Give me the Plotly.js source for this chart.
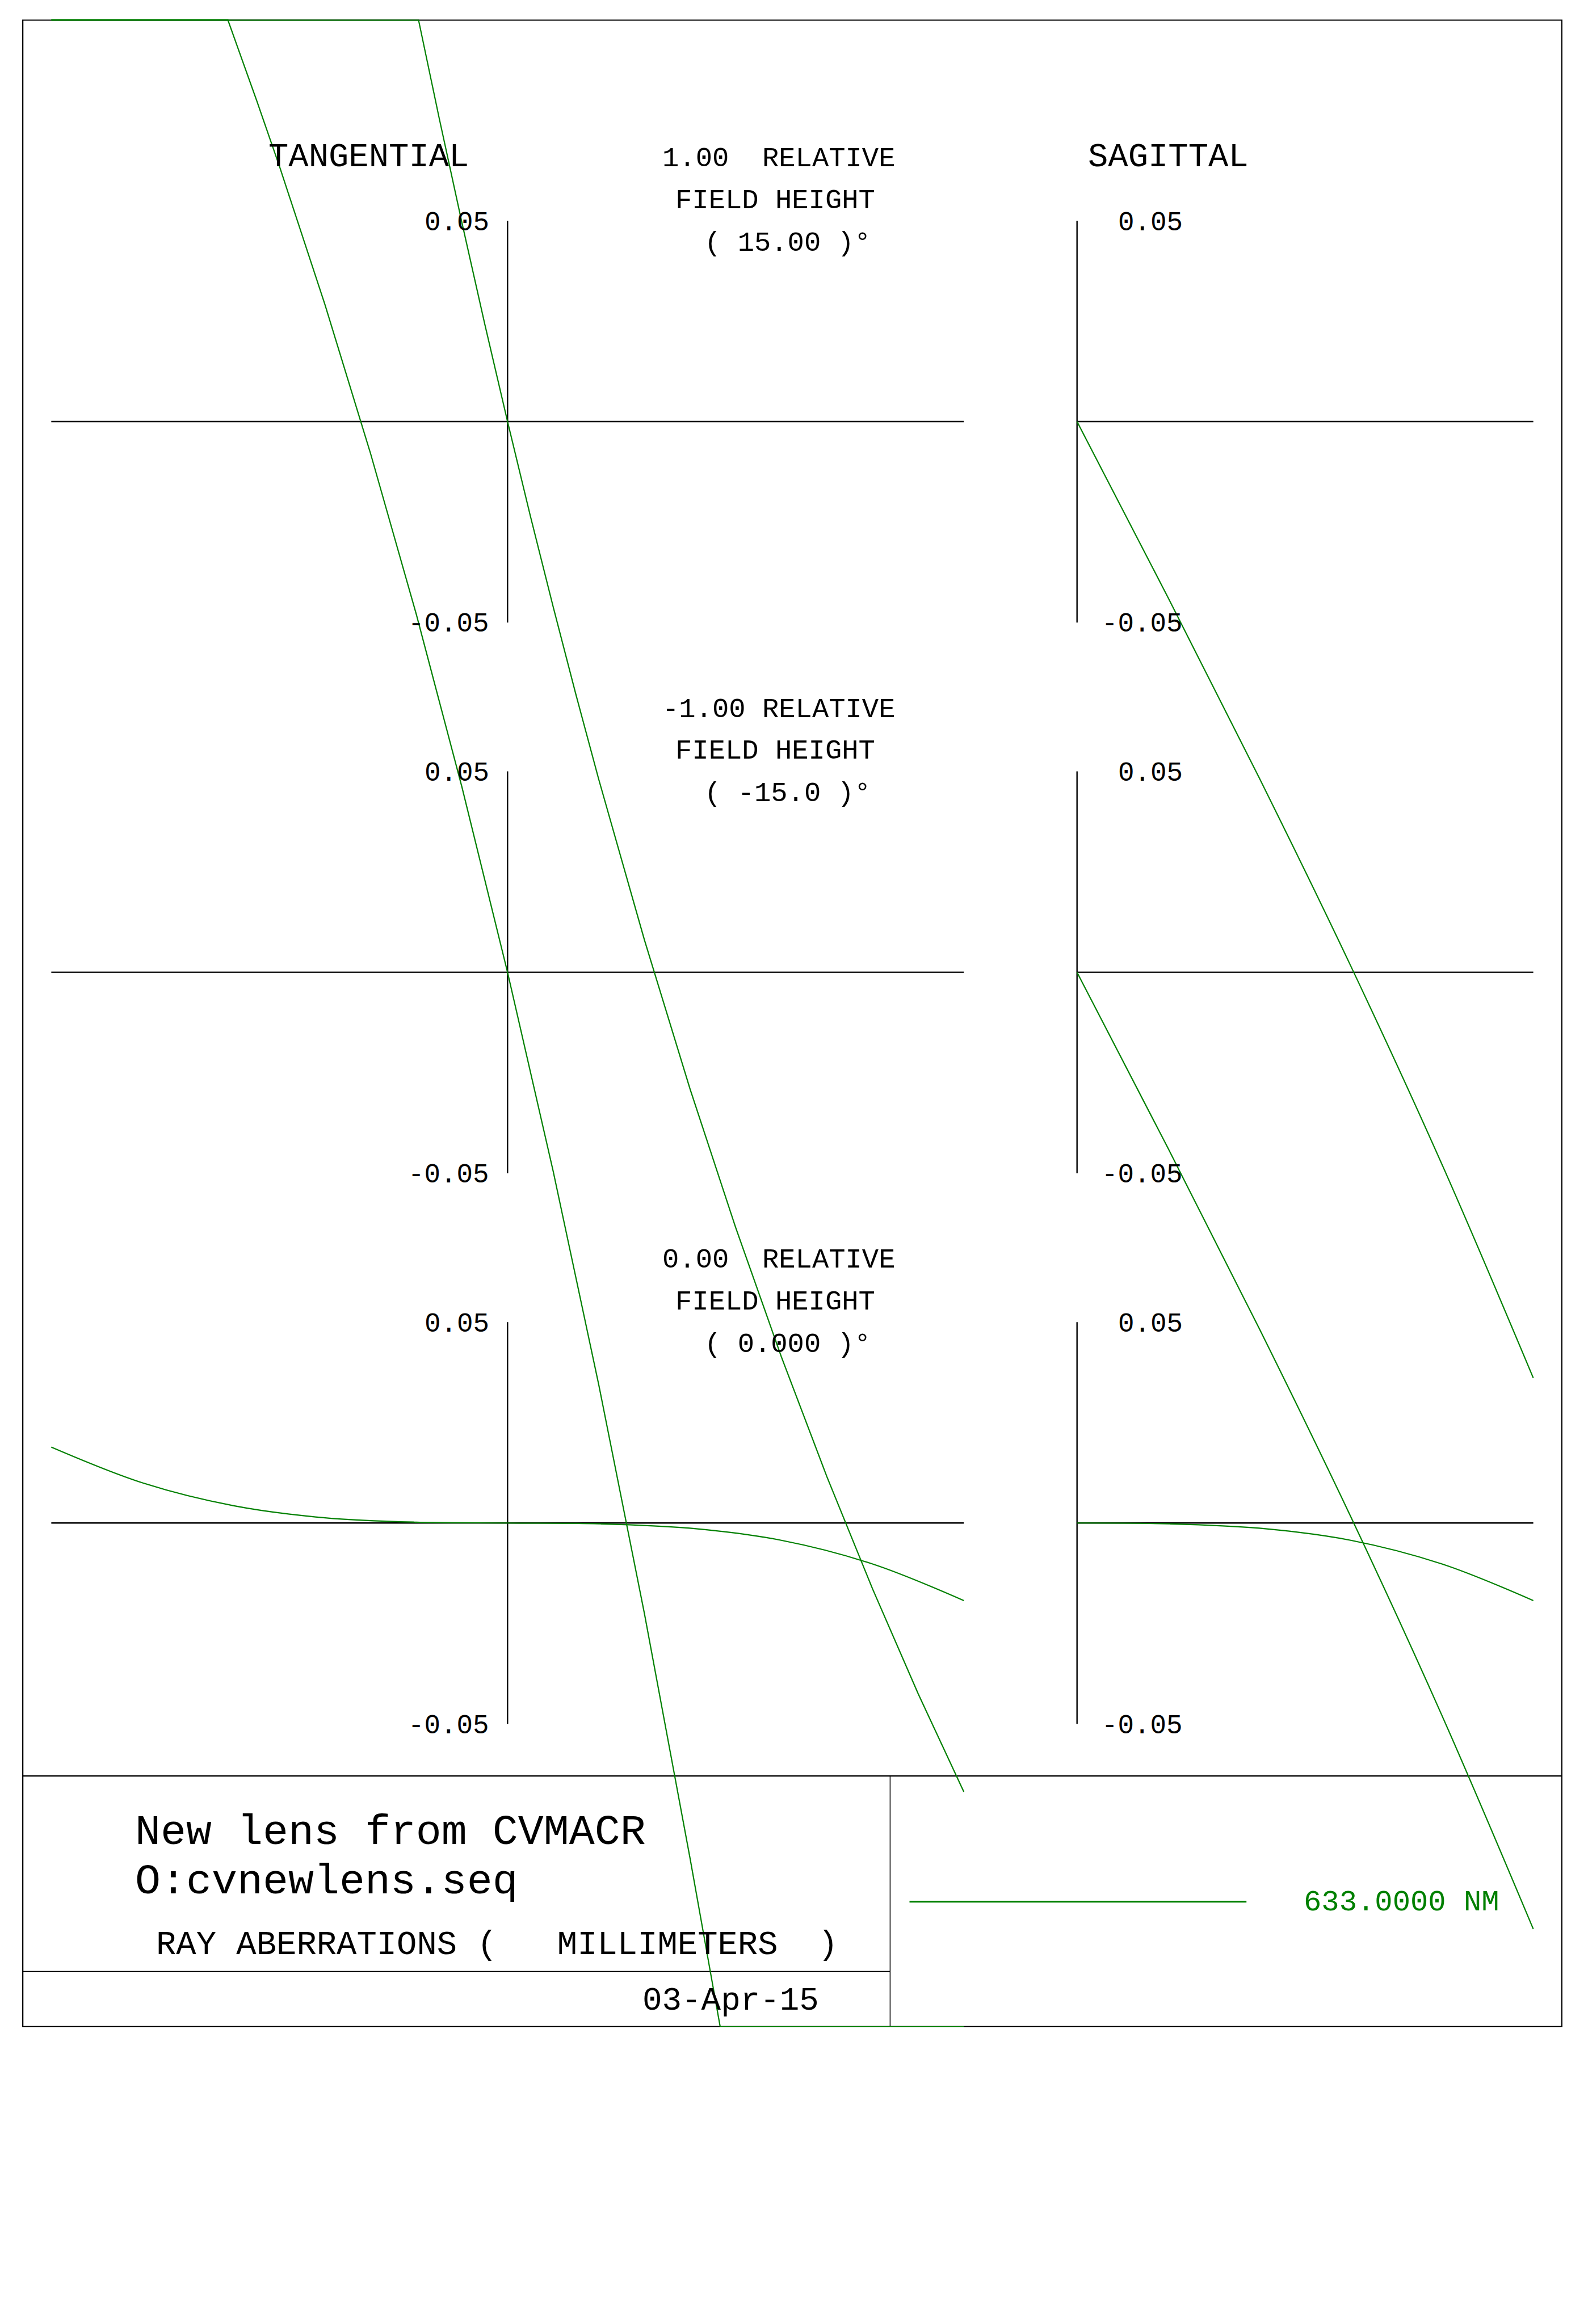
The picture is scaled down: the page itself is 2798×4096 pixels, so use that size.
<!DOCTYPE html>
<html><head><meta charset="utf-8">
<script src="https://cdn.plot.ly/plotly-3.0.1.min.js"></script>
<style>html,body{margin:0;padding:0;background:#fff;overflow:hidden}#plot{width:2798px;height:4096px}</style>
</head><body><div id="plot"></div>
<script>
// ---------------- data ----------------
// relative pupil coordinate / ray aberration (mm); values at the frame edge are clipped as drawn
const PUPIL_T1 = [-1.0, -0.195, -0.15, -0.1, -0.05, 0.0, 0.05, 0.1, 0.15, 0.2, 0.3, 0.4, 0.5, 0.6, 0.7, 0.8, 0.9, 1.0];
const ABER_T1  = [0.0999, 0.0999, 0.0756, 0.0495, 0.0243, 0.0, -0.0235, -0.0461, -0.0680, -0.0891, -0.1290, -0.1661, -0.2006, -0.2327, -0.2626, -0.2905, -0.3166, -0.3410];
const PUPIL_T2 = [-1.0, -0.613, -0.55, -0.5, -0.4, -0.3, -0.2, -0.1, 0.0, 0.1, 0.2, 0.3, 0.4, 0.466, 1.0];
const ABER_T2  = [0.2370, 0.2370, 0.2170, 0.2006, 0.1661, 0.1290, 0.0891, 0.0461, 0.0, -0.0495, -0.1027, -0.1596, -0.2205, -0.2624, -0.2624];
const PUPIL_T3 = [-1.0, -0.8, -0.6, -0.4, -0.2, 0.0, 0.2, 0.4, 0.6, 0.8, 1.0];
const ABER_T3  = [0.0189, 0.0100, 0.0043, 0.0013, 0.0002, 0.0, -0.0002, -0.0013, -0.0043, -0.0102, -0.0193];
const PUPIL_S1 = [0.0, 0.2, 0.4, 0.6, 0.8, 1.0];
const ABER_S1  = [0.0, -0.0439, -0.0888, -0.1355, -0.1849, -0.2380];
const PUPIL_S2 = [0.0, 0.2, 0.4, 0.6, 0.8, 1.0];
const ABER_S2  = [0.0, -0.0439, -0.0888, -0.1355, -0.1850, -0.2381];
const PUPIL_S3 = [0.0, 0.2, 0.4, 0.6, 0.8, 1.0];
const ABER_S3  = [0.0, -0.0002, -0.0013, -0.0043, -0.0102, -0.0193];

const TICK_VALUES = [0.05, -0.05];
const TICK_LABELS = ["0.05", "-0.05"];
const FIELD_LINE1 = ["1.00  RELATIVE", "-1.00 RELATIVE", "0.00  RELATIVE"];
const FIELD_LINE2 = ["FIELD HEIGHT", "FIELD HEIGHT", "FIELD HEIGHT"];
const FIELD_LINE3 = ["( 15.00 )°", "( -15.0 )°", "( 0.000 )°"];
const HEAD_TAN = "TANGENTIAL";
const HEAD_SAG = "SAGITTAL";
const TITLE_LINES = ["New lens from CVMACR", "O:cvnewlens.seq"];
const UNITS_LINE = "RAY ABERRATIONS (   MILLIMETERS  )";
const DATE_TEXT = "03-Apr-15";
const WAVELENGTH = "633.0000 NM";

// ---------------- geometry (reference pixels) ----------------
const REF_W = 4180, REF_H = 6119, W = 2798, H = 4096, S = W / REF_W;
const TAN_X0 = 1336, SAG_X0 = 2835, PUPIL_PX = 1201;
const ZERO_Y = [1110, 2560, 4010];
const MM_PX = 529 / 0.05;
const GREEN = '#008000';
const FONT = 'Liberation Mono, Courier New, monospace';
const px = X => X / REF_W, py = Y => 1 - Y / REF_H;
const yaxName = ['y', 'y2', 'y3'];

const traces = [
  [PUPIL_T1, ABER_T1, 'x', 'y'], [PUPIL_T2, ABER_T2, 'x', 'y2'], [PUPIL_T3, ABER_T3, 'x', 'y3'],
  [PUPIL_S1, ABER_S1, 'x2', 'y'], [PUPIL_S2, ABER_S2, 'x2', 'y2'], [PUPIL_S3, ABER_S3, 'x2', 'y3']
].map(([x, y, xa, ya], i) => ({
  x, y, xaxis: xa, yaxis: ya, type: 'scatter', mode: 'lines', hoverinfo: 'skip',
  line: {color: GREEN, width: 2.2, shape: (i % 3 === 2 || i >= 3) ? 'spline' : 'linear'}, showlegend: false
}));

const hidden = {visible: false, fixedrange: true, domain: [0, 1]};
const layout = {
  width: W, height: H, autosize: false,
  margin: {l: 0, r: 0, t: 0, b: 0, pad: 0},
  paper_bgcolor: '#fff', plot_bgcolor: '#fff', showlegend: false,
  xaxis: Object.assign({}, hidden, {range: [(0 - TAN_X0) / PUPIL_PX, (REF_W - TAN_X0) / PUPIL_PX]}),
  xaxis2: Object.assign({}, hidden, {overlaying: 'x', range: [(0 - SAG_X0) / PUPIL_PX, (REF_W - SAG_X0) / PUPIL_PX]}),
  shapes: [], annotations: []
};
ZERO_Y.forEach((z, k) => {
  const key = k === 0 ? 'yaxis' : 'yaxis' + (k + 1);
  layout[key] = Object.assign({}, hidden, {range: [(z - REF_H) / MM_PX, z / MM_PX]});
  if (k > 0) layout[key].overlaying = 'y';
});

const blk = w => ({color: '#000', width: w});
const shp = layout.shapes;
// frame and title block
shp.push({type: 'rect', xref: 'paper', yref: 'paper', x0: px(60), x1: px(4111), y0: py(53), y1: py(5336), line: blk(2.2), layer: 'below'});
shp.push({type: 'line', xref: 'paper', yref: 'paper', x0: px(60), x1: px(4111), y0: py(4676), y1: py(4676), line: blk(2.2), layer: 'below'});
shp.push({type: 'line', xref: 'paper', yref: 'paper', x0: px(2343), x1: px(2343), y0: py(4676), y1: py(5336), line: blk(1.5), layer: 'below'});
shp.push({type: 'line', xref: 'paper', yref: 'paper', x0: px(60), x1: px(2343), y0: py(5191), y1: py(5191), line: blk(2.2), layer: 'below'});
// legend sample line
shp.push({type: 'line', xref: 'paper', yref: 'paper', x0: px(2394), x1: px(3281), y0: py(5007), y1: py(5007), line: {color: GREEN, width: 3.2}});

// panel axes
ZERO_Y.forEach((z, k) => {
  const ya = yaxName[k];
  shp.push({type: 'line', xref: 'x', yref: ya, x0: -1, x1: 1, y0: 0, y1: 0, line: blk(2.4), layer: 'below'});
  shp.push({type: 'line', xref: 'x', yref: ya, x0: 0, x1: 0, y0: -0.05, y1: 0.05, line: blk(2.4), layer: 'below'});
  shp.push({type: 'line', xref: 'x2', yref: ya, x0: 0, x1: 1, y0: 0, y1: 0, line: blk(2.4), layer: 'below'});
  shp.push({type: 'line', xref: 'x2', yref: ya, x0: 0, x1: 0, y0: -0.05, y1: 0.05, line: blk(2.4), layer: 'below'});
});

const ann = layout.annotations;
const BASE_K = 0.27;
function textAt(text, X, baseY, fsFull, anchor, color) {
  ann.push({text, xref: 'paper', yref: 'paper', x: px(X), y: py(baseY - BASE_K * fsFull),
    xanchor: anchor, yanchor: 'middle', showarrow: false, borderpad: 0,
    font: {family: FONT, size: fsFull * S, color: color || '#000'}});
}
// column heads
textAt(HEAD_TAN, 971, 439, 88, 'center');
textAt(HEAD_SAG, 3075, 439, 88, 'center');
// field captions and tick labels
const FS_FIELD = 73, FS_TICK = 71;
ZERO_Y.forEach((z, k) => {
  const dy = z - ZERO_Y[0];
  textAt(FIELD_LINE1[k], 2050, 438 + dy, FS_FIELD, 'center');
  textAt(FIELD_LINE2[k], 2040, 548 + dy, FS_FIELD, 'center');
  textAt(FIELD_LINE3[k], 2050 - 4.5 * 0.6 * FS_FIELD, 660 + dy, FS_FIELD, 'left');
  TICK_VALUES.forEach((v, i) => {
    const baseOff = i === 0 ? 25 : 24;
    const shiftY = -(baseOff - BASE_K * FS_TICK) * S;
    ann.push({text: TICK_LABELS[i], xref: 'x', yref: yaxName[k], x: 0, y: v, xanchor: 'right', yanchor: 'middle',
      xshift: (1290 - TAN_X0) * S, yshift: shiftY, showarrow: false, borderpad: 0,
      font: {family: FONT, size: FS_TICK * S, color: '#000'}});
    ann.push({text: TICK_LABELS[i], xref: 'x2', yref: yaxName[k], x: 0, y: v, xanchor: 'right', yanchor: 'middle',
      xshift: (3115 - SAG_X0) * S, yshift: shiftY, showarrow: false, borderpad: 0,
      font: {family: FONT, size: FS_TICK * S, color: '#000'}});
  });
});
// title block
textAt(TITLE_LINES[0], 354, 4856, 112, 'left');
textAt(TITLE_LINES[1], 354, 4986, 112, 'left');
textAt(UNITS_LINE, 410, 5146, 88, 'left');
textAt(DATE_TEXT, 1690, 5291, 86, 'left');
textAt(WAVELENGTH, 3430, 5031, 78, 'left', GREEN);

Plotly.newPlot('plot', traces, layout, {staticPlot: true, displayModeBar: false});
</script></body></html>
